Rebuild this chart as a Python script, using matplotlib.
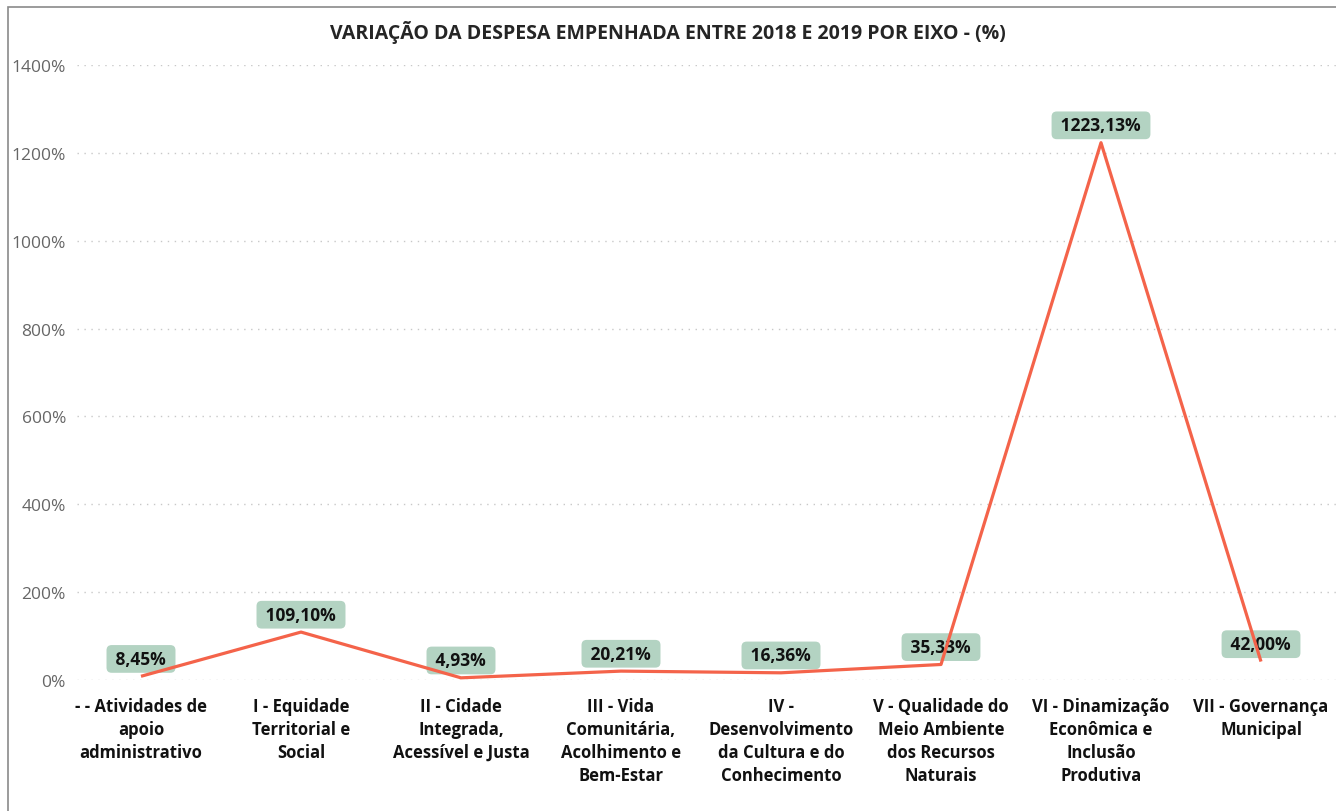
import matplotlib
matplotlib.use('Agg')
import matplotlib.pyplot as plt
from matplotlib.patches import Rectangle
from matplotlib.ticker import FuncFormatter

plt.rcParams['font.family'] = ['Open Sans', 'DejaVu Sans']

# dados
eixos = [
    '- - Atividades de\napoio\nadministrativo',
    'I - Equidade\nTerritorial e\nSocial',
    'II - Cidade\nIntegrada,\nAcessível e Justa',
    'III - Vida\nComunitária,\nAcolhimento e\nBem-Estar',
    'IV -\nDesenvolvimento\nda Cultura e do\nConhecimento',
    'V - Qualidade do\nMeio Ambiente\ndos Recursos\nNaturais',
    'VI - Dinamização\nEconômica e\nInclusão\nProdutiva',
    'VII - Governança\nMunicipal',
]
variacao = [8.45, 109.10, 4.93, 20.21, 16.36, 35.33, 1223.13, 42.00]
y_ticks = [0, 200, 400, 600, 800, 1000, 1200, 1400]

fig = plt.figure(figsize=(13.36, 8.12), dpi=100)
ax = fig.add_axes([77 / 1336, 1 - 681 / 812, 1 - 77 / 1336, (681 - 66) / 812])

x = list(range(len(eixos)))
ax.plot(x, variacao, color='#f4634a', linewidth=2.3, zorder=4, solid_capstyle='butt')

# rotulos de dados (espacos extras para alargar a caixa)
for xi, v in zip(x, variacao):
    txt = ' ' + f'{v:.2f}'.replace('.', ',') + '% '
    ax.annotate(txt, (xi, v), xytext=(0, 12.5), textcoords='offset points',
                ha='center', va='center', fontsize=12.5, fontweight='bold', color='#111111',
                bbox=dict(boxstyle='round,pad=0.28,rounding_size=0.3', fc='#b3d3c2', ec='none'),
                zorder=3)

ax.set_xlim(-0.4, (1336 - 141) / 160)
ax.set_ylim(0, 1400)
ax.set_yticks(y_ticks)
ax.yaxis.set_major_formatter(FuncFormatter(lambda v, p: f'{v:.0f}%'))
ax.set_xticks(x)
ax.set_xticklabels(eixos, fontsize=12, fontweight='bold', color='#111111', linespacing=1.36)
ax.tick_params(axis='x', length=0, pad=12)
ax.tick_params(axis='y', length=0, pad=8, labelsize=12.5, labelcolor='#666666')
ax.grid(axis='y', linestyle=(0, (1, 4)), color='#c8c8c8', linewidth=1)
ax.set_axisbelow(True)
for s in ax.spines.values():
    s.set_visible(False)

fig.text(668 / 1336, 1 - 33 / 812, 'VARIAÇÃO DA DESPESA EMPENHADA ENTRE 2018 E 2019 POR EIXO - (%)',
         ha='center', va='center', fontsize=14, fontweight='bold', color='#252525')

# moldura
fig.patches.append(Rectangle((8 / 1336, -0.1), 1.2, 1 - 8 / 812 + 0.1, transform=fig.transFigure,
                             fill=False, ec='#8a8a8a', lw=1.2))

fig.savefig('out.png', dpi=100)
